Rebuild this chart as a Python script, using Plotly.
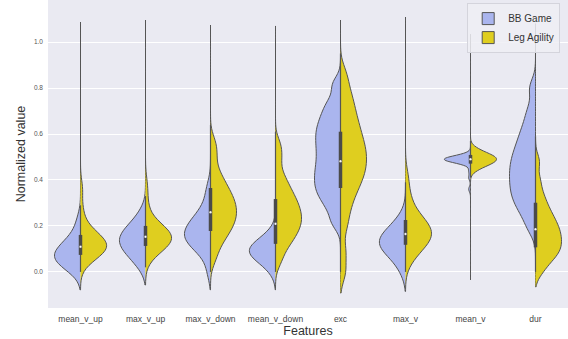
import plotly.graph_objects as go

features = ["mean_v_up", "max_v_up", "max_v_down", "mean_v_down", "exc", "max_v", "mean_v", "dur"]
groups = ["BB Game", "Leg Agility"]

# Sample values per feature and group
bb_mean_v_up = [0.0, 0.010, 0.023, 0.033, 0.041, 0.048, 0.055, 0.061, 0.066, 0.072, 0.078, 0.086, 0.093, 0.101, 0.109, 0.118, 0.128, 0.141, 0.157, 0.187, 0.23]
leg_mean_v_up = [0.037, 0.057, 0.069, 0.078, 0.085, 0.091, 0.097, 0.102, 0.107, 0.113, 0.118, 0.125, 0.131, 0.138, 0.145, 0.153, 0.162, 0.173, 0.187, 0.213, 0.27, 0.36]

bb_max_v_up = [0.02, 0.043, 0.062, 0.077, 0.088, 0.098, 0.108, 0.116, 0.125, 0.133, 0.141, 0.149, 0.158, 0.166, 0.176, 0.186, 0.197, 0.212, 0.231, 0.264]
leg_max_v_up = [0.066, 0.088, 0.100, 0.109, 0.116, 0.123, 0.129, 0.135, 0.140, 0.145, 0.151, 0.156, 0.161, 0.167, 0.173, 0.180, 0.187, 0.196, 0.208, 0.230, 0.29, 0.37]

bb_max_v_down = [0.0, 0.060, 0.088, 0.103, 0.115, 0.125, 0.135, 0.143, 0.151, 0.159, 0.168, 0.176, 0.185, 0.195, 0.204, 0.215, 0.227, 0.240, 0.257, 0.279, 0.319, 0.37]
leg_max_v_down = [0.060, 0.114, 0.144, 0.167, 0.187, 0.203, 0.218, 0.234, 0.248, 0.262, 0.276, 0.291, 0.306, 0.322, 0.338, 0.357, 0.379, 0.405, 0.440, 0.503, 0.56]

bb_mean_v_down = [0.0, 0.023, 0.040, 0.051, 0.058, 0.065, 0.071, 0.076, 0.081, 0.086, 0.091, 0.096, 0.101, 0.107, 0.112, 0.118, 0.125, 0.132, 0.142, 0.154, 0.177]
leg_mean_v_down = [0.049, 0.099, 0.127, 0.148, 0.167, 0.183, 0.198, 0.213, 0.227, 0.241, 0.255, 0.270, 0.286, 0.302, 0.319, 0.339, 0.361, 0.389, 0.425, 0.492, 0.55]

bb_exc = [0.215, 0.273, 0.312, 0.340, 0.365, 0.389, 0.413, 0.437, 0.462, 0.488, 0.515, 0.541, 0.567, 0.592, 0.617, 0.643, 0.672, 0.705, 0.745, 0.815]
leg_exc = [0.0, 0.09, 0.195, 0.258, 0.306, 0.343, 0.371, 0.397, 0.418, 0.439, 0.458, 0.477, 0.497, 0.516, 0.535, 0.555, 0.577, 0.599, 0.625, 0.651, 0.681, 0.714, 0.751, 0.795, 0.86]

bb_max_v = [0.0, 0.029, 0.056, 0.070, 0.082, 0.091, 0.099, 0.107, 0.114, 0.121, 0.129, 0.135, 0.143, 0.150, 0.158, 0.166, 0.175, 0.186, 0.199, 0.216, 0.247]
leg_max_v = [0.043, 0.076, 0.094, 0.108, 0.120, 0.130, 0.139, 0.148, 0.156, 0.164, 0.172, 0.181, 0.189, 0.198, 0.208, 0.219, 0.231, 0.245, 0.264, 0.299, 0.34, 0.41]

bb_mean_v = [0.36, 0.41, 0.44, 0.469, 0.475, 0.478, 0.480, 0.482, 0.484, 0.485, 0.487, 0.488, 0.489, 0.491, 0.492, 0.493, 0.495, 0.496, 0.498, 0.500, 0.502, 0.505, 0.511]
leg_mean_v = [0.441, 0.454, 0.461, 0.467, 0.471, 0.475, 0.479, 0.482, 0.485, 0.489, 0.492, 0.495, 0.498, 0.501, 0.505, 0.509, 0.513, 0.519, 0.526, 0.539]

bb_dur = [0.19, 0.243, 0.276, 0.304, 0.326, 0.349, 0.370, 0.392, 0.413, 0.434, 0.455, 0.477, 0.498, 0.523, 0.548, 0.578, 0.611, 0.652, 0.708, 0.80]
leg_dur = [0.0, 0.03, 0.055, 0.068, 0.080, 0.093, 0.105, 0.117, 0.128, 0.140, 0.151, 0.164, 0.176, 0.188, 0.200, 0.215, 0.230, 0.245, 0.265, 0.286, 0.313, 0.347, 0.40, 0.48]

# Extent of each violin's tails
tail_lo = [-0.078, -0.057, -0.078, -0.078, -0.092, -0.085, -0.035, -0.065]
tail_hi = [1.087, 1.096, 1.074, 1.070, 1.096, 1.109, 1.035, 1.080]

# Inner box statistics (combined groups)
box_q1 = [0.074, 0.113, 0.178, 0.122, 0.365, 0.118, 0.471, 0.107]
box_med = [0.110, 0.153, 0.260, 0.209, 0.482, 0.165, 0.490, 0.186]
box_q3 = [0.161, 0.200, 0.365, 0.317, 0.610, 0.226, 0.509, 0.301]
whisk_lo = [0.0, 0.02, 0.0, 0.0, 0.0, 0.0, 0.41, 0.0]
whisk_hi = [0.29, 0.33, 0.64, 0.61, 0.95, 0.39, 0.57, 0.59]

# KDE bandwidths (style)
bw_bb = [0.038, 0.04, 0.04, 0.038, 0.035, 0.042, 0.012, 0.04]
bw_leg = [0.04, 0.045, 0.04, 0.037, 0.045, 0.045, 0.017, 0.033]

bb_data = [bb_mean_v_up, bb_max_v_up, bb_max_v_down, bb_mean_v_down, bb_exc, bb_max_v, bb_mean_v, bb_dur]
leg_data = [leg_mean_v_up, leg_max_v_up, leg_max_v_down, leg_mean_v_down, leg_exc, leg_max_v, leg_mean_v, leg_dur]

BLUE = "#AAB5EE"
YELLOW = "#DFCE1F"
GRAY = "#555555"
FONT = "Liberation Sans, Arial, sans-serif"

fig = go.Figure()
for i, f in enumerate(features):
    for grp, data, bw, color, side in [
        (groups[0], bb_data[i], bw_bb[i], BLUE, "negative"),
        (groups[1], leg_data[i], bw_leg[i], YELLOW, "positive"),
    ]:
        fig.add_trace(go.Violin(
            x=[f] * len(data), y=data, name=grp, legendgroup=grp,
            showlegend=(i == 0), side=side, scalegroup=f, scalemode="width",
            width=0.8, bandwidth=bw, spanmode="manual", span=[tail_lo[i], tail_hi[i]],
            points=False, fillcolor=color, opacity=1, line=dict(color=GRAY, width=1),
            box_visible=False, meanline_visible=False, hoverinfo="skip",
        ))

for i, f in enumerate(features):
    fig.add_trace(go.Scatter(x=[f, f], y=[whisk_lo[i], whisk_hi[i]], mode="lines",
                             line=dict(color=GRAY, width=1.2), showlegend=False, hoverinfo="skip"))
    fig.add_trace(go.Scatter(x=[f, f], y=[box_q1[i], box_q3[i]], mode="lines",
                             line=dict(color="#4a4a4a", width=3.5), showlegend=False, hoverinfo="skip"))
fig.add_trace(go.Scatter(x=features, y=box_med, mode="markers",
                         marker=dict(color="white", size=2.5, line=dict(color=GRAY, width=0.3)),
                         showlegend=False, hoverinfo="skip"))

fig.update_layout(
    width=568, height=339,
    margin=dict(l=48, r=0, t=0, b=31, autoexpand=False),
    paper_bgcolor="white", plot_bgcolor="#EAEAF2",
    violinmode="overlay", violingap=0, violingroupgap=0,
    font=dict(family=FONT, color="#262626"),
    legend=dict(x=0.985, y=0.99, xanchor="right", yanchor="top",
                bgcolor="rgba(238,238,245,0.85)", bordercolor="#D4D4DC", borderwidth=1,
                font=dict(size=10, color="#333"), tracegroupgap=0, itemwidth=30),
    xaxis=dict(type="category", categoryorder="array", categoryarray=features,
               range=[-0.5, 7.5], showgrid=False, zeroline=False, ticks="",
               tickfont=dict(size=8.5, color="#444"), ticklabelstandoff=4,
               title=dict(text="Features", font=dict(size=12.5, color="#333"), standoff=1)),
    yaxis=dict(range=[-0.157, 1.183], tickvals=[0, 0.2, 0.4, 0.6, 0.8, 1.0],
               tickformat=".1f", showgrid=True, gridcolor="white", gridwidth=1,
               zeroline=False, ticks="", tickfont=dict(size=6.5, color="#555"),
               ticklabelstandoff=4,
               title=dict(text="Normalized value", font=dict(size=12.5, color="#333"), standoff=5)),
)

fig.write_html("out.html", config={"displayModeBar": False},
               post_script="document.body.style.margin='0';document.body.style.padding='0';")
